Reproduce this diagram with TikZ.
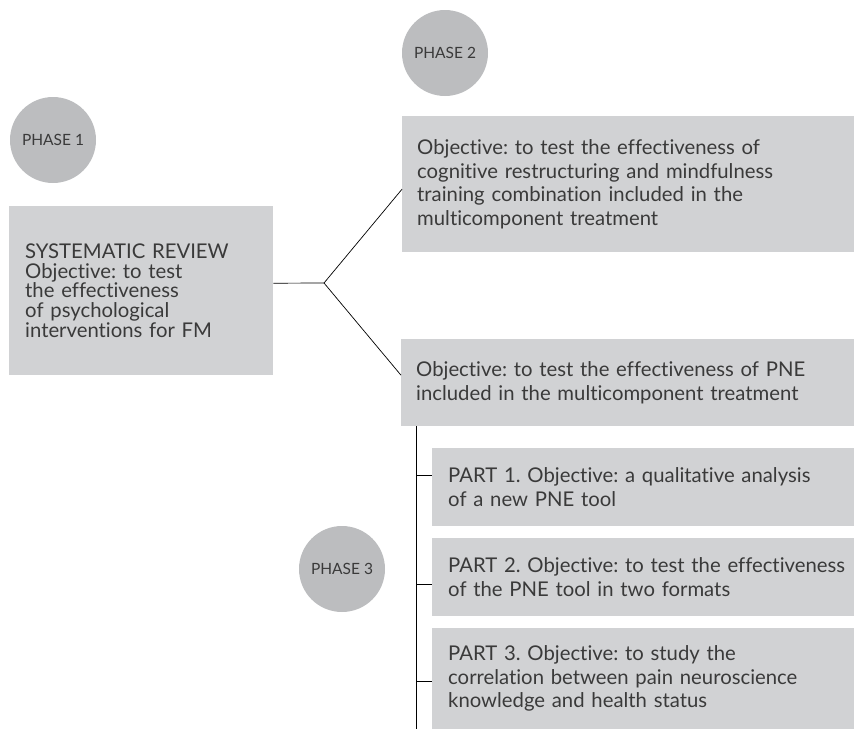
\documentclass[tikz,border=0pt]{standalone}
\usepackage{fontspec}
\setmainfont{Lato}[Ligatures={NoCommon}]
\definecolor{boxgray}{HTML}{D1D2D4}
\definecolor{circgray}{HTML}{BCBDBF}
\definecolor{ink}{HTML}{3A3A3A}
\frenchspacing
\begin{document}
\begin{tikzpicture}[x=1pt,y=-1pt,
  panel/.style={fill=boxgray, draw=none, anchor=north west, align=left,
    inner xsep=15pt, inner ysep=0pt, text=ink,
    font=\fontsize{20.3}{23.5}\selectfont},
  phase/.style={circle, fill=circgray, minimum size=86pt, inner sep=0pt,
    text=ink, font=\fontsize{15.5}{17}\selectfont},
  link/.style={draw=black, line width=0.7pt}]
\useasboundingbox (0,0) rectangle (854,729);

% phase markers
\node[phase] (ph1) at (53,140) {PHASE 1};
\node[phase] (ph2) at (445,53) {PHASE 2};
\node[phase] (ph3) at (342,569) {PHASE 3};

% phase 1 box
\node[panel, inner xsep=16pt, text width=232pt, minimum height=169pt,
  font=\fontsize{20.3}{19.7}\selectfont] (sr) at (9,206)
  {SYSTEMATIC REVIEW\\Objective: to test\\the effectiveness\\of psychological\\interventions for FM};

% phase 2 box (runs off the right edge)
\node[panel, text width=430pt, minimum height=136pt] (cr) at (402,116)
  {Objective: to test the effectiveness of\\cognitive restructuring and mindfulness\\training combination included in the\\multicomponent treatment};

% phase 3 boxes (run off the right edge)
\node[panel, text width=430pt, minimum height=87pt] (pne) at (401,339)
  {Objective: to test the effectiveness of PNE\\included in the multicomponent treatment};
\node[panel, inner xsep=16pt, text width=410pt, minimum height=78pt] (pa) at (432,448)
  {PART 1. Objective: a qualitative analysis\\of a new PNE tool};
\node[panel, inner xsep=16pt, text width=410pt, minimum height=78pt] (pb) at (432,538)
  {PART 2. Objective: to test the effectiveness\\of the PNE tool in two formats};
\node[panel, inner xsep=16pt, text width=410pt, minimum height=101pt] (pc) at (432,628)
  {PART 3. Objective: to study the\\correlation between pain neuroscience\\knowledge and health status};

% fork from phase 1 to phase 2 and phase 3
\coordinate (fork) at (324,283);
\draw[link] ([yshift=7.5pt]sr.east) -- (fork);
\draw[link] (fork) -- ([yshift=-5pt]cr.west);
\draw[link] (fork) -- ([yshift=7.5pt]pne.west);

% spine with ticks to the three parts
\coordinate (top) at ([xshift=15pt]pne.south west);
\coordinate (bot) at (416,729);
\coordinate (ta) at ([yshift=12pt]pa.west);
\coordinate (tb) at ([yshift=-7pt]pb.west);
\coordinate (tc) at ([yshift=-2.5pt]pc.west);
\draw[link] (top) -- (bot);
\draw[link] (top |- ta) -- (ta);
\draw[link] (top |- tb) -- (tb);
\draw[link] (top |- tc) -- (tc);
\end{tikzpicture}
\end{document}
